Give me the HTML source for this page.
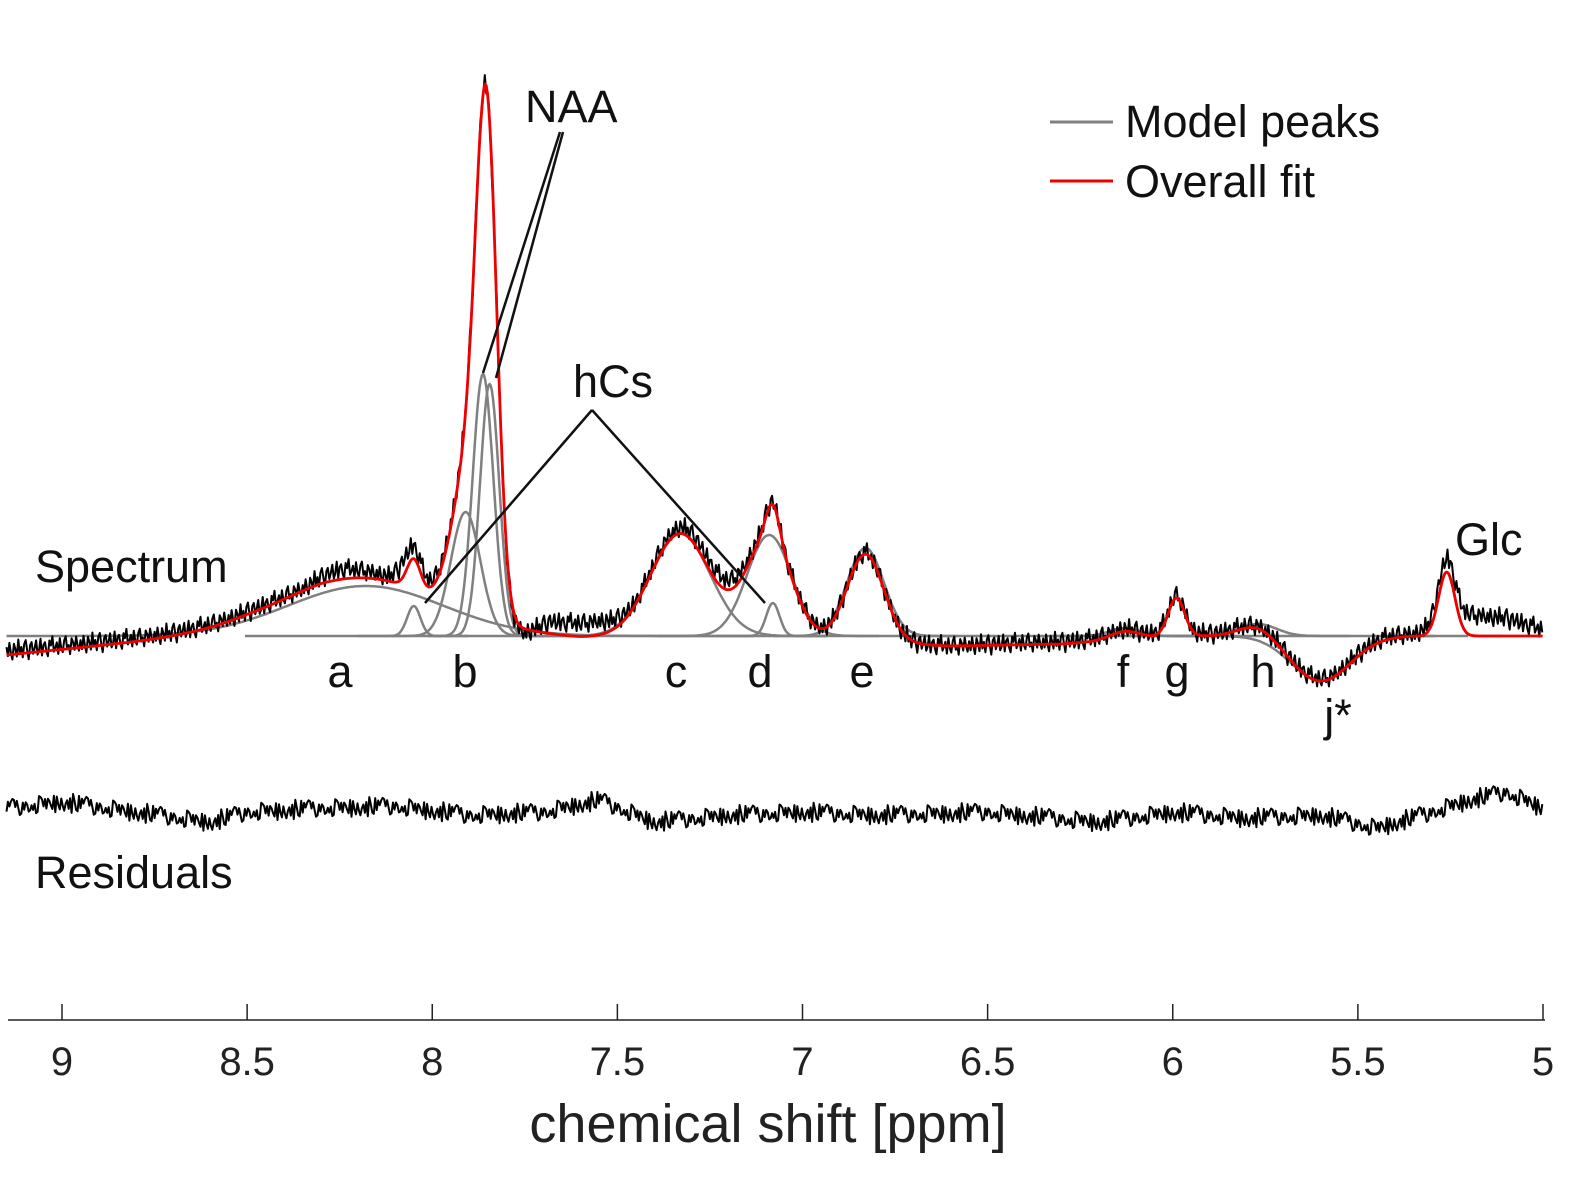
<!DOCTYPE html>
<html><head><meta charset="utf-8"><style>
html,body{margin:0;padding:0;background:#fff;}
svg{display:block;font-family:"Liberation Sans",sans-serif;}
</style></head><body>
<svg id="chart" width="1575" height="1195" viewBox="0 0 1575 1195" xmlns="http://www.w3.org/2000/svg">
<g id="plot"></g>
<g>
<line x1="8" y1="1020" x2="1545" y2="1020" stroke="#222" stroke-width="1.5"/>
<g id="ticks"></g>
<text x="768" y="1142" font-size="54" text-anchor="middle" fill="#222">chemical shift [ppm]</text>
</g>
<g>
<line x1="1050" y1="122" x2="1113" y2="122" stroke="#808080" stroke-width="3"/>
<text x="1125" y="137" font-size="45" fill="#111">Model peaks</text>
<line x1="1050" y1="181" x2="1113" y2="181" stroke="#e00" stroke-width="3"/>
<text x="1125" y="197" font-size="45" fill="#111">Overall fit</text>
</g>
<g font-size="45" fill="#111">
<text x="35" y="582">Spectrum</text>
<text x="35" y="888">Residuals</text>
<text x="525" y="122">NAA</text>
<text x="573" y="397">hCs</text>
<text x="1455" y="555">Glc</text>
<line x1="560" y1="132" x2="483" y2="373" stroke="#111" stroke-width="2.5"/>
<line x1="563" y1="132" x2="496" y2="378" stroke="#111" stroke-width="2.5"/>
<line x1="592" y1="410" x2="425" y2="603" stroke="#111" stroke-width="2.5"/>
<line x1="592" y1="410" x2="765" y2="603" stroke="#111" stroke-width="2.5"/>
<text x="340" y="687" text-anchor="middle">a</text>
<text x="465" y="687" text-anchor="middle">b</text>
<text x="676" y="687" text-anchor="middle">c</text>
<text x="760" y="687" text-anchor="middle">d</text>
<text x="862" y="687" text-anchor="middle">e</text>
<text x="1123" y="687" text-anchor="middle">f</text>
<text x="1177" y="687" text-anchor="middle">g</text>
<text x="1263" y="687" text-anchor="middle">h</text>
<text x="1338" y="731" text-anchor="middle">j*</text>
</g>
</svg>
<script>
// ---- data ----
const tickValues = [9, 8.5, 8, 7.5, 7, 6.5, 6, 5.5, 5];
const tickLabels = ["9", "8.5", "8", "7.5", "7", "6.5", "6", "5.5", "5"];
const peakCenters = [8.18, 8.05, 7.91, 7.863, 7.845, 7.33, 7.09, 7.08, 6.83, 6.13, 5.99, 5.77, 5.60, 5.26];
const peakHeights = [50, 30, 124, 262, 252, 103, 101, 33, 88, 8, 38, 12, -45, 64];
const peakWidths  = [0.21, 0.018, 0.04, 0.028, 0.026, 0.08, 0.06, 0.018, 0.05, 0.04, 0.022, 0.05, 0.08, 0.022];
const baselinePpm = [9.15, 8.8, 8.5, 8.3, 8.0, 7.6, 7.2, 6.6, 6.3, 6.0, 5.0];
const baselineVal = [-19, -6, 6, 10, 5, -2, 0, -10, -8, 0, 0];
const specOffPpm = [9.15, 8.35, 8.25, 8.12, 8.08, 8.0, 7.75, 7.68, 7.55, 7.45, 7.2, 7.1, 6.6, 6.4, 5.35, 5.2, 5.1, 5.0];
const specOffVal = [8, 6, 14, 8, 20, 10, 0, 16, 18, 6, 14, 6, 4, 6, 6, 25, 22, 10];
const noise = [3,-4,6,-2,-7,5,1,-5,8,-3,2,-6,4,7,-1,-8,3,5,-4,0,6,-5,-2,7,-6,2,4,-3,-7,5,1,8,-4,-1,3,-6,6,-2,-5,4,7,-3,0,-7,5,2,-4,6,-1,-5];
const residPpm = [9.15, 9.0, 8.8, 8.6, 8.5, 8.3, 8.1, 7.9, 7.7, 7.55, 7.4, 7.2, 7.0, 6.8, 6.5, 6.2, 6.0, 5.8, 5.6, 5.45, 5.3, 5.2, 5.1, 5.0];
const residVal = [808, 802, 812, 822, 812, 808, 806, 815, 812, 800, 822, 815, 812, 815, 812, 822, 812, 818, 815, 828, 812, 800, 792, 808];

// ---- scales ----
const xS = p => 62 + (9 - p) * 370.25;
const yS = v => 636 - v;
const NS = "http://www.w3.org/2000/svg";
const plot = document.getElementById('plot');
function interp(xs, ys, p){
  for(let i=0;i<xs.length-1;i++){ if(p<=xs[i] && p>=xs[i+1]){ const t=(xs[i]-p)/(xs[i]-xs[i+1]); return ys[i]+t*(ys[i+1]-ys[i]); } }
  return p>xs[0]?ys[0]:ys[ys.length-1];
}
const g = (k,p) => peakHeights[k]*Math.exp(-Math.pow(p-peakCenters[k],2)/(2*peakWidths[k]*peakWidths[k]));
function fitVal(p){ let s=interp(baselinePpm, baselineVal, p); for(let k=0;k<peakCenters.length;k++) s+=g(k,p); return s; }
function path(pts, color, w, name){
  const el=document.createElementNS(NS,'polyline');
  el.setAttribute('points', pts.map(q=>q[0].toFixed(1)+','+q[1].toFixed(1)).join(' '));
  el.setAttribute('fill','none'); el.setAttribute('stroke',color); el.setAttribute('stroke-width',w);
  el.setAttribute('stroke-linejoin','round');
  
  
  plot.appendChild(el);
}
path([[245,636],[1435,636]], '#808080', 2.5, 'model-baseline');
for(let k=0;k<peakCenters.length;k++){
  const r = Math.max(5*peakWidths[k], 0.15);
  const lo = k===0 ? 9.15 : peakCenters[k]+r, hi = peakCenters[k]-r;
  const pts=[];
  for(let p=lo;p>=hi;p-=0.003) pts.push([xS(p), yS(g(k,p))]);
  path(pts, '#808080', 2.5, 'model-peak-'+k);
}
const sp=[]; let i=0;
for(let p=9.15;p>=5.0;p-=0.004,i++) sp.push([xS(p), yS(fitVal(p)+interp(specOffPpm,specOffVal,p)-4+noise[i%noise.length]*1.3)]);
path(sp, '#000', 2, 'spectrum-line');
const ft=[];
for(let p=9.15;p>=5.0;p-=0.003) ft.push([xS(p), yS(fitVal(p))]);
path(ft, '#e00', 2.8, 'overall-fit-line');
const rs=[]; i=0;
for(let p=9.15;p>=5.0;p-=0.004,i++) rs.push([xS(p), interp(residPpm,residVal,p)+noise[(i*7)%noise.length]*1.2]);
path(rs, '#000', 2, 'residuals-line');
const tg=document.getElementById('ticks');
tickValues.forEach((v,j)=>{
  const l=document.createElementNS(NS,'line');
  l.setAttribute('x1',xS(v)); l.setAttribute('x2',xS(v)); l.setAttribute('y1',1004); l.setAttribute('y2',1020);
  l.setAttribute('stroke','#222'); l.setAttribute('stroke-width','1.5');
  
  
  tg.appendChild(l);
  const t=document.createElementNS(NS,'text');
  t.setAttribute('x',xS(v)); t.setAttribute('y',1075); t.setAttribute('font-size','40');
  t.setAttribute('text-anchor','middle'); t.setAttribute('fill','#222');
  t.textContent=tickLabels[j];
  
  
  tg.appendChild(t);
});
</script>
</body></html>
